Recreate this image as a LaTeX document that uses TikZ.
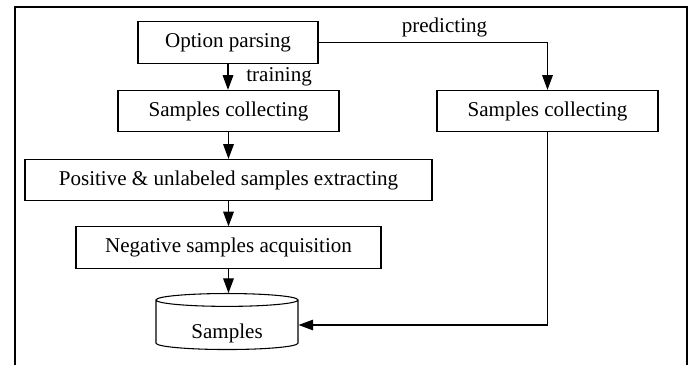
\documentclass[tikz,border=0pt]{standalone}
\usepackage{fontspec}
\setmainfont{Liberation Serif}
\usetikzlibrary{positioning}
\usetikzlibrary{shapes.geometric}
\usetikzlibrary{arrows.meta}

\begin{document}
\begin{tikzpicture}[x=0.75pt, y=-0.75pt, font=\fontsize{15.8}{19}\selectfont,
		box/.style={draw, black, line width=0.8pt, rectangle, minimum height=31pt, inner sep=0pt},
		flow/.style={black, line width=0.8pt, -{Triangle[length=11pt, width=8pt]}}]
	\useasboundingbox (0, 0) rectangle (694, 365);
	\draw[black, line width=0.9pt] (15, 365)--(15, 7)--(687, 7)--(687, 365);
	\node[box, minimum width=135pt] (opt) at (228, 42.5) {Option parsing};
	\node[box, minimum width=165.75pt] (collA) at (228.5, 111) {Samples collecting};
	\node[box, minimum width=305.25pt] (pos) at (228.5, 180) {Positive \& unlabeled samples extracting};
	\node[box, minimum width=228.75pt] (neg) at (228.5, 247.5) {Negative samples acquisition};
	\node[draw, black, line width=0.8pt, cylinder, shape border rotate=90, aspect=0.18,
		minimum width=106.5pt, minimum height=42pt, inner sep=0pt, text height=23pt] (store) at (227, 325) {Samples};
	\node[box, minimum width=165.75pt] (collB) at (547.5, 111) {Samples collecting};
	\draw[flow] (opt.south)--(opt.south |- collA.north) node[midway, right=10pt] {training};
	\draw[flow] (opt.east)--(opt.east -| collB.north) node[pos=0.55, above] {predicting}--(collB.north);
	\draw[flow] (collA.south)--(collA.south |- pos.north);
	\draw[flow] (pos.south)--(pos.south |- neg.north);
	\draw[flow] (neg.south)--(neg.south |- store.north);
	\draw[flow] (collB.south) |- (store);
\end{tikzpicture}
\end{document}
